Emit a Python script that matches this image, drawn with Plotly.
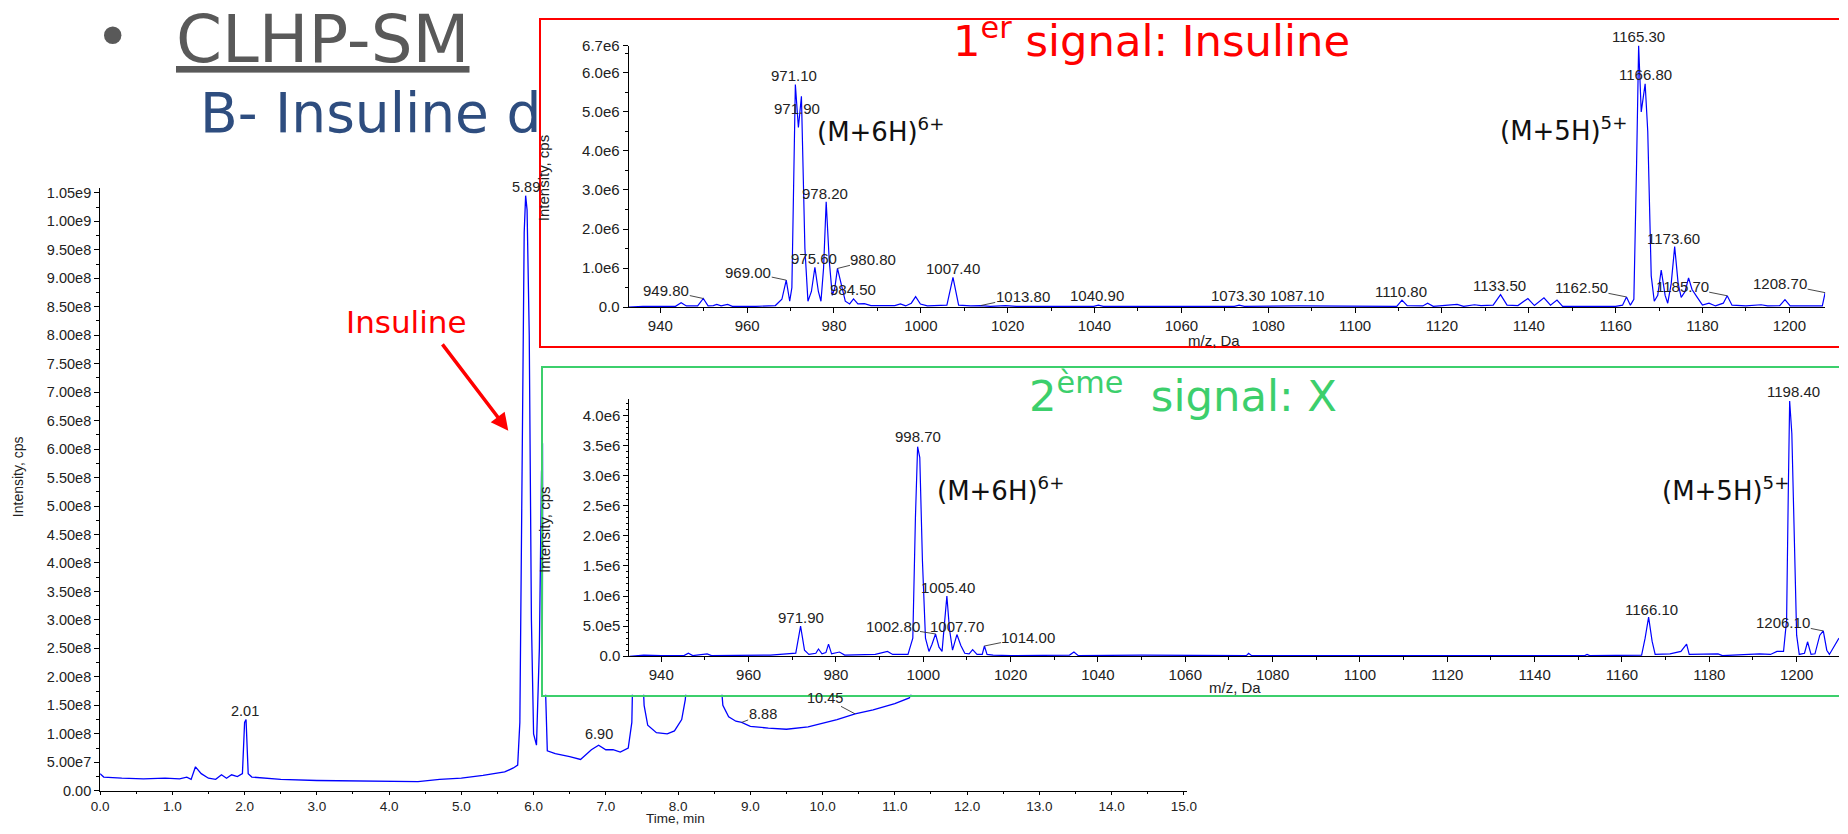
import plotly.graph_objects as go

# ------------------------------------------------------------------ data
# Chromatogram (time in min, intensity in 1e8 cps)
chrom_time = [0.00, 0.05, 0.30, 0.60, 0.90, 1.10, 1.20, 1.26, 1.32, 1.40, 1.50, 1.60, 1.68, 1.75, 1.82,
              1.90, 1.97, 2.00, 2.02, 2.05, 2.10, 2.50, 3.00, 3.50, 4.00, 4.40, 4.70, 5.00, 5.30, 5.60,
              5.72, 5.78, 5.81, 5.84, 5.87, 5.89, 5.91, 5.94, 5.97, 6.00, 6.04, 6.08, 6.11, 6.13, 6.16,
              6.19, 6.30, 6.50, 6.65, 6.80, 6.90, 7.00, 7.10, 7.20, 7.31, 7.36, 7.38, 7.43, 7.50, 7.53,
              7.58, 7.70, 7.85, 7.95, 8.05, 8.10, 8.14, 8.25, 8.40, 8.55, 8.62, 8.70, 8.80, 8.88, 9.00,
              9.25, 9.50, 9.80, 10.00, 10.20, 10.45, 10.70, 11.00, 11.20, 11.30, 11.50, 12.00, 12.80,
              13.50, 14.20, 15.00]
chrom_int_e8 = [0.30, 0.24, 0.22, 0.21, 0.22, 0.21, 0.24, 0.20, 0.42, 0.30, 0.22, 0.20, 0.28, 0.22, 0.28,
                0.25, 0.30, 1.20, 1.25, 0.30, 0.24, 0.20, 0.18, 0.17, 0.17, 0.16, 0.20, 0.22, 0.27, 0.33,
                0.40, 0.45, 1.20, 5.00, 9.80, 10.45, 10.20, 8.00, 3.00, 1.00, 0.80, 2.50, 5.60, 6.10, 2.00,
                0.70, 0.65, 0.60, 0.55, 0.72, 0.80, 0.72, 0.72, 0.68, 0.75, 1.20, 2.50, 4.50, 2.40, 1.50,
                1.15, 1.02, 1.00, 1.05, 1.25, 1.60, 2.20, 4.50, 5.00, 2.50, 1.50, 1.30, 1.22, 1.20, 1.13,
                1.10, 1.08, 1.12, 1.18, 1.25, 1.35, 1.42, 1.53, 1.63, 1.90, 3.00, 3.40, 4.00,
                3.60, 3.20, 2.80]

chrom_xtick_vals = list(range(0, 16))
chrom_xtick_text = [f"{v}.0" for v in chrom_xtick_vals]
chrom_ytick_vals = [i * 5e7 for i in range(0, 22)]
chrom_ytick_text = ["0.00", "5.00e7", "1.00e8", "1.50e8", "2.00e8", "2.50e8", "3.00e8", "3.50e8", "4.00e8",
                    "4.50e8", "5.00e8", "5.50e8", "6.00e8", "6.50e8", "7.00e8", "7.50e8", "8.00e8", "8.50e8",
                    "9.00e8", "9.50e8", "1.00e9", "1.05e9"]

chrom_label_text = ["2.01", "5.89", "6.90", "8.88", "10.45"]
chrom_label_time = [2.01, 5.89, 6.90, 8.88, 10.45]
chrom_label_int_e8 = [1.25, 10.45, 0.80, 1.20, 1.35]

# Spectrum 1 : 1er signal (m/z, intensity in 1e6 cps)
ms1_mz = [932.7, 936.0, 940.0, 943.5, 944.8, 946.0, 948.6, 949.9, 951.0, 952.2, 953.0, 954.0, 955.5, 956.6,
          962.0, 966.5, 968.0, 969.0, 969.8, 970.3, 971.1, 971.8, 972.5, 973.3, 974.0, 974.8, 975.6, 976.4,
          977.0, 977.6, 978.2, 978.9, 979.6, 980.2, 980.8, 981.6, 982.6, 983.6, 984.5, 985.5, 987.0, 988.5,
          994.0, 995.3, 996.5, 997.8, 998.8, 999.9, 1001.5, 1006.0, 1007.4, 1008.7, 1011.5, 1013.8, 1016.0,
          1019.5, 1022.0, 1039.8, 1040.9, 1042.0, 1072.2, 1073.3, 1074.5, 1087.1, 1095.0, 1109.6, 1110.8,
          1112.0, 1115.6, 1116.7, 1118.0, 1123.5, 1125.0, 1127.5, 1129.0, 1131.8, 1133.5, 1135.0, 1137.5,
          1139.8, 1141.3, 1143.5, 1145.0, 1146.5, 1147.8, 1160.0, 1161.6, 1162.5, 1163.4, 1164.2, 1164.8,
          1165.3, 1165.9, 1166.8, 1167.4, 1168.2, 1168.9, 1169.7, 1170.5, 1171.4, 1172.0, 1172.8, 1173.6,
          1174.4, 1175.1, 1176.0, 1176.8, 1177.6, 1178.8, 1180.0, 1181.5, 1183.0, 1184.8, 1185.7, 1186.8,
          1190.0, 1193.5, 1195.0, 1197.8, 1199.0, 1200.2, 1207.6, 1208.25]
ms1_int_e6 = [0.00, 0.02, 0.02, 0.02, 0.11, 0.03, 0.03, 0.22, 0.03, 0.04, 0.07, 0.03, 0.07, 0.02,
              0.02, 0.04, 0.20, 0.69, 0.15, 0.50, 5.70, 4.60, 5.40, 1.50, 0.15, 0.40, 1.02, 0.40,
              0.15, 1.00, 2.70, 1.20, 0.30, 0.50, 0.99, 0.60, 0.15, 0.08, 0.21, 0.08, 0.09, 0.04,
              0.04, 0.08, 0.03, 0.10, 0.27, 0.08, 0.03, 0.05, 0.76, 0.05, 0.03, 0.04, 0.02,
              0.04, 0.02, 0.02, 0.05, 0.02, 0.02, 0.05, 0.02, 0.03, 0.02, 0.02, 0.18,
              0.04, 0.03, 0.10, 0.02, 0.07, 0.02, 0.06, 0.04, 0.05, 0.32, 0.05, 0.04,
              0.22, 0.04, 0.24, 0.05, 0.18, 0.02, 0.02, 0.05, 0.26, 0.05, 0.20, 3.50,
              6.70, 5.00, 5.72, 4.50, 0.80, 0.15, 0.30, 0.95, 0.30, 0.10, 0.60, 1.55,
              0.60, 0.25, 0.40, 0.75, 0.45, 0.25, 0.05, 0.10, 0.03, 0.10, 0.29, 0.05,
              0.03, 0.06, 0.03, 0.04, 0.19, 0.03, 0.03, 0.37]

ms1_label_text = ["949.80", "969.00", "971.10", "971.90", "975.60", "978.20", "980.80", "984.50", "1007.40",
                  "1013.80", "1040.90", "1073.30", "1087.10", "1110.80", "1133.50", "1162.50", "1165.30",
                  "1166.80", "1173.60", "1185.70", "1208.70"]
ms1_label_mz = [949.9, 969.0, 971.1, 972.5, 975.6, 978.2, 980.8, 984.5, 1007.4, 1013.8, 1040.9, 1073.3,
                1087.1, 1110.8, 1133.5, 1162.5, 1165.3, 1166.8, 1173.6, 1185.7, 1208.25]
ms1_label_int_e6 = [0.22, 0.69, 5.70, 5.40, 1.02, 2.70, 0.99, 0.21, 0.76, 0.04, 0.05, 0.05, 0.03, 0.18,
                    0.32, 0.26, 6.70, 5.72, 1.55, 0.29, 0.37]

# Spectrum 2 : 2eme signal
ms2_mz = [932.7, 936.0, 940.0, 945.2, 946.2, 947.2, 950.5, 951.5, 965.0, 968.0, 970.8, 971.9, 972.8, 973.8,
          975.4, 976.0, 976.8, 977.7, 978.3, 979.0, 980.8, 982.0, 989.0, 991.8, 993.0, 996.5, 997.6, 998.2,
          998.7, 999.2, 999.8, 1000.5, 1001.3, 1002.0, 1002.8, 1003.6, 1004.3, 1004.8, 1005.4, 1006.0,
          1006.7, 1007.7, 1008.6, 1009.5, 1010.5, 1011.3, 1012.3, 1013.5, 1014.0, 1014.6, 1016.0, 1020.0,
          1033.5, 1034.5, 1035.5, 1050.0, 1074.0, 1074.5, 1075.2, 1100.0, 1151.5, 1152.0, 1152.6, 1164.5,
          1165.3, 1166.1, 1166.9, 1167.6, 1171.0, 1173.5, 1174.8, 1175.4, 1182.0, 1183.0, 1191.5, 1194.0,
          1195.5, 1197.0, 1197.7, 1198.1, 1198.4, 1198.9, 1199.4, 1200.0, 1200.6, 1201.8, 1202.5, 1203.3,
          1204.2, 1205.3, 1206.1, 1206.9, 1207.5, 1208.5, 1209.7]
ms2_int_e6 = [0.00, 0.02, 0.01, 0.01, 0.05, 0.01, 0.04, 0.01, 0.02, 0.03, 0.05, 0.50, 0.10, 0.03,
              0.05, 0.12, 0.04, 0.06, 0.20, 0.04, 0.07, 0.02, 0.03, 0.08, 0.03, 0.03, 0.30, 2.30,
              3.48, 3.30, 1.60, 0.30, 0.08, 0.20, 0.37, 0.15, 0.08, 0.50, 1.00, 0.45,
              0.10, 0.36, 0.18, 0.05, 0.04, 0.11, 0.03, 0.03, 0.17, 0.03, 0.02, 0.01,
              0.02, 0.07, 0.01, 0.02, 0.01, 0.05, 0.01, 0.01, 0.01, 0.03, 0.01, 0.02,
              0.30, 0.65, 0.25, 0.03, 0.04, 0.08, 0.20, 0.03, 0.04, 0.01, 0.04, 0.03,
              0.08, 0.08, 0.60, 2.80, 4.24, 3.70, 1.90, 0.35, 0.03, 0.05, 0.24, 0.03,
              0.04, 0.35, 0.42, 0.10, 0.03, 0.15, 0.30]

ms2_label_text = ["971.90", "998.70", "1002.80", "1005.40", "1007.70", "1014.00", "1166.10", "1198.40",
                  "1206.10"]
ms2_label_mz = [971.9, 998.7, 1002.8, 1005.4, 1007.7, 1014.0, 1166.1, 1198.4, 1206.1]
ms2_label_int_e6 = [0.50, 3.48, 0.37, 1.00, 0.36, 0.17, 0.65, 4.24, 0.42]

ms_xtick_vals = list(range(940, 1201, 20))
ms1_ytick_vals = [0, 1e6, 2e6, 3e6, 4e6, 5e6, 6e6, 6.7e6]
ms1_ytick_text = ["0.0", "1.0e6", "2.0e6", "3.0e6", "4.0e6", "5.0e6", "6.0e6", "6.7e6"]
ms2_ytick_vals = [i * 5e5 for i in range(0, 9)]
ms2_ytick_text = ["0.0", "5.0e5", "1.0e6", "1.5e6", "2.0e6", "2.5e6", "3.0e6", "3.5e6", "4.0e6"]

# ------------------------------------------------------------------ styles (label offsets in px)
chrom_label_style = [(0, -9, False), (0, -9, False), (0, -11, False), (21, -8, True), (-30, -16, True)]
ms1_label_style = [(-37, -8, True), (-38, -8, True), (-1, -9, False), (-4, 12, False), (-1, -9, False),
                   (-1, -8, False), (36, -9, True), (-1, -9, False), (0, -9, False), (42, -9, True),
                   (-1, -10, False), (-1, -10, False), (-2, -10, False), (-1, -9, False), (-1, -9, False),
                   (-45, -9, True), (0, -9, False), (0, -9, False), (-1, -8, False), (-45, -9, True),
                   (-45, -9, True)]
ms2_label_style = [(0, -9, False), (0, -10, False), (-43, -7, True), (1, -9, False), (0, -8, False),
                   (44, -9, True), (3, -8, False), (4, -9, False), (-40, -8, True)]

W, H = 1848, 834
BLUE = "#0000FF"
RED = "#FF0000"
GREEN = "#3CCF6C"
AXFONT = "Liberation Sans, Arial, sans-serif"
SLIDEFONT = "DejaVu Sans, Verdana, sans-serif"


def px_x(p):
    return p / W


def px_y(p):
    return 1 - p / H


fig = go.Figure()

fig.add_trace(go.Scatter(x=chrom_time, y=[v * 1e8 for v in chrom_int_e8], mode="lines",
                         line=dict(color=BLUE, width=1.3), xaxis="x", yaxis="y", hoverinfo="skip"))
# empty traces so that the frame subplots exist
fig.add_trace(go.Scatter(x=[], y=[], xaxis="x2", yaxis="y2", hoverinfo="skip"))
fig.add_trace(go.Scatter(x=ms1_mz, y=[v * 1e6 for v in ms1_int_e6], mode="lines",
                         line=dict(color=BLUE, width=1.2), xaxis="x3", yaxis="y3", hoverinfo="skip"))
fig.add_trace(go.Scatter(x=[], y=[], xaxis="x4", yaxis="y4", hoverinfo="skip"))
fig.add_trace(go.Scatter(x=ms2_mz, y=[v * 1e6 for v in ms2_int_e6], mode="lines",
                         line=dict(color=BLUE, width=1.2), xaxis="x5", yaxis="y5", hoverinfo="skip"))

tickfont = dict(family=AXFONT, size=15, color="#222")
chrom_tickfont = dict(family=AXFONT, size=14.5, color="#222")
chrom_xtickfont = dict(family=AXFONT, size=13.5, color="#222")
base_ax = dict(showgrid=False, zeroline=False, showline=True, linecolor="#000", linewidth=1,
               ticks="outside", tickcolor="#000", ticklen=5, fixedrange=True)
frame_ax = dict(showgrid=False, zeroline=False, showticklabels=False, ticks="", range=[0, 1],
                fixedrange=True, showline=True, linewidth=2)

fig.update_layout(
    width=W, height=H, margin=dict(l=0, r=0, t=0, b=0), autosize=False,
    paper_bgcolor="white", plot_bgcolor="white", showlegend=False,
    xaxis=dict(base_ax, domain=[px_x(92), px_x(1190)], range=[0, 15.05], anchor="y",
               tickvals=chrom_xtick_vals, ticktext=chrom_xtick_text, tickfont=chrom_xtickfont,
               ticklen=3, minor=dict(dtick=0.5, ticks="outside", ticklen=2, tickcolor="#000")),
    yaxis=dict(base_ax, domain=[px_y(798), px_y(183)], range=[0, 1.058e9], anchor="x",
               tickvals=chrom_ytick_vals, ticktext=chrom_ytick_text, tickfont=chrom_tickfont,
               minor=dict(dtick=2.5e7, ticks="outside", ticklen=3, tickcolor="#000")),
    xaxis2=dict(frame_ax, domain=[px_x(537), 1.0], anchor="y2", mirror=True, linecolor=RED),
    yaxis2=dict(frame_ax, domain=[px_y(344), px_y(11)], anchor="x2", mirror=False, linecolor=RED),
    xaxis3=dict(base_ax, domain=[px_x(625.7), px_x(1834)], range=[932.7, 1208.25], anchor="y3",
                tickvals=ms_xtick_vals, tickfont=tickfont,
                minor=dict(dtick=10, tick0=930, ticks="outside", ticklen=3, tickcolor="#000")),
    yaxis3=dict(base_ax, domain=[px_y(304.3), px_y(37.3)], range=[0, 6.7e6], anchor="x3",
                tickvals=ms1_ytick_vals, ticktext=ms1_ytick_text, tickfont=tickfont,
                minor=dict(dtick=5e5, ticks="outside", ticklen=3, tickcolor="#000")),
    xaxis4=dict(frame_ax, domain=[px_x(539.5), 1.0], anchor="y4", mirror=True, linecolor=GREEN),
    yaxis4=dict(frame_ax, domain=[px_y(700), px_y(366.7)], anchor="x4", mirror=False, linecolor=GREEN),
    xaxis5=dict(base_ax, domain=[px_x(626.5), 1.0], range=[932.7, 1209.7], anchor="y5",
                tickvals=ms_xtick_vals, tickfont=tickfont,
                minor=dict(dtick=10, tick0=930, ticks="outside", ticklen=3, tickcolor="#000")),
    yaxis5=dict(base_ax, domain=[px_y(660.7), px_y(398.3)], range=[0, 4.27e6], anchor="x5",
                tickvals=ms2_ytick_vals, ticktext=ms2_ytick_text, tickfont=tickfont,
                minor=dict(dtick=1e5, ticks="outside", ticklen=2, tickcolor="#000")),
)


def add_labels(texts, xs, ys, styles, xref, yref, font):
    for t, x, y, (dx, dy, lead) in zip(texts, xs, ys, styles):
        if lead:
            fig.add_annotation(x=x, y=y, xref=xref, yref=yref, text=t, showarrow=True, arrowhead=0,
                               arrowwidth=0.9, arrowcolor="#333", ax=dx, ay=dy, standoff=0,
                               font=font, borderpad=0)
        else:
            fig.add_annotation(x=x, y=y, xref=xref, yref=yref, text=t, showarrow=False,
                               xanchor="center", yanchor="middle", xshift=dx, yshift=-dy, font=font)


add_labels(chrom_label_text, chrom_label_time, [v * 1e8 for v in chrom_label_int_e8], chrom_label_style,
           "x", "y", dict(family=AXFONT, size=14.5, color="#222"))
add_labels(ms1_label_text, ms1_label_mz, [v * 1e6 for v in ms1_label_int_e6], ms1_label_style,
           "x3", "y3", dict(family=AXFONT, size=15, color="#222"))
add_labels(ms2_label_text, ms2_label_mz, [v * 1e6 for v in ms2_label_int_e6], ms2_label_style,
           "x5", "y5", dict(family=AXFONT, size=15, color="#222"))


def paper_text(px, py, text, font, xanchor="center", textangle=0):
    fig.add_annotation(x=px_x(px), y=px_y(py), xref="paper", yref="paper", text=text, showarrow=False,
                       xanchor=xanchor, yanchor="middle", textangle=textangle, font=font)


# axis titles
axtitle = dict(family=AXFONT, size=14, color="#222")
axtitle15 = dict(family=AXFONT, size=15, color="#222")
paper_text(9, 477, "Intensity, cps", axtitle, textangle=-90)
paper_text(673, 826, "Time, min", dict(family=AXFONT, size=13.5, color="#222"))
paper_text(540, 173, "Intensity, cps", axtitle15, textangle=-90)
paper_text(1189, 338, "m/z, Da", axtitle15, xanchor="left")
paper_text(540, 532, "Intensity, cps", axtitle15, textangle=-90)
paper_text(1210, 693, "m/z, Da", axtitle15, xanchor="left")

# slide texts
paper_text(105, 29, "•", dict(family=SLIDEFONT, size=60, color="#595959"))
paper_text(166.5, 31.5, "<u>CLHP-SM</u>", dict(family=SLIDEFONT, size=66, color="#595959"), xanchor="left")
paper_text(190.5, 106.5, "B- Insuline d", dict(family=SLIDEFONT, size=55, color="#2E4D7F"), xanchor="left")

paper_text(951, 30, "1<sup>er</sup> signal: Insuline", dict(family=SLIDEFONT, size=43.3, color=RED),
           xanchor="left")
paper_text(1028, 392, "2<sup>ème</sup>  signal: X", dict(family=SLIDEFONT, size=43.3, color=GREEN),
           xanchor="left")

ion_font = dict(family=SLIDEFONT, size=26, color="#111")
paper_text(814, 124, "(M+6H)<sup>6+</sup>", ion_font, xanchor="left")
paper_text(1504, 123, "(M+5H)<sup>5+</sup>", ion_font, xanchor="left")
paper_text(935, 490, "(M+6H)<sup>6+</sup>", ion_font, xanchor="left")
paper_text(1667, 490, "(M+5H)<sup>5+</sup>", ion_font, xanchor="left")

# Insuline pointer
paper_text(401, 320, "Insuline", dict(family=SLIDEFONT, size=31, color=RED))
fig.add_annotation(x=5.65, y=6.32e8, xref="x", yref="y", text="", showarrow=True, arrowhead=2,
                   arrowsize=1, arrowwidth=3.5, arrowcolor=RED, ax=-67, ay=-88, standoff=0)

fig.write_html("out.html", config={"displayModeBar": False})
